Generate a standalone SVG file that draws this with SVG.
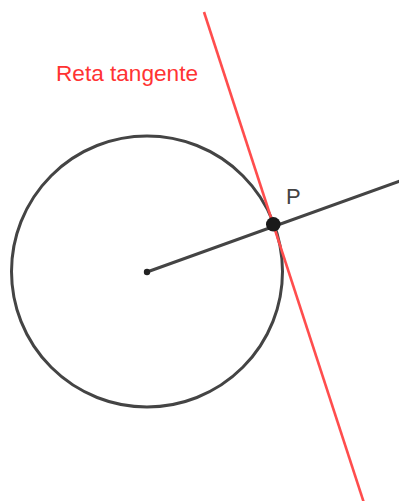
<svg xmlns="http://www.w3.org/2000/svg" width="399" height="501" viewBox="0 0 399 501">
<style>
.g{stroke:#444;stroke-width:3;fill:none;stroke-linecap:round}
.r{stroke:#ff4d4d;stroke-width:2.6;fill:none}
.t{font-family:"Liberation Sans","DejaVu Sans",sans-serif}
</style>
<rect width="399" height="501" fill="#fff"/>
<g id="circle"><circle class="g" cx="147" cy="271.5" r="135.5"/></g>
<g id="connectors">
<line class="g" x1="147" y1="272" x2="400" y2="181"/>
<line class="r" x1="204" y1="12" x2="364" y2="503"/>
</g>
<g id="center"><circle cx="147" cy="272" r="3.2" fill="#222"/></g>
<g id="P"><circle cx="273.3" cy="224.3" r="7.3" fill="#1a1a1a"/>
<text class="t" x="286" y="203.5" font-size="22" fill="#444">P</text></g>
<g id="label"><text class="t" x="56" y="80.7" font-size="22" textLength="142" lengthAdjust="spacingAndGlyphs" fill="#ff3333">Reta tangente</text></g>
</svg>
